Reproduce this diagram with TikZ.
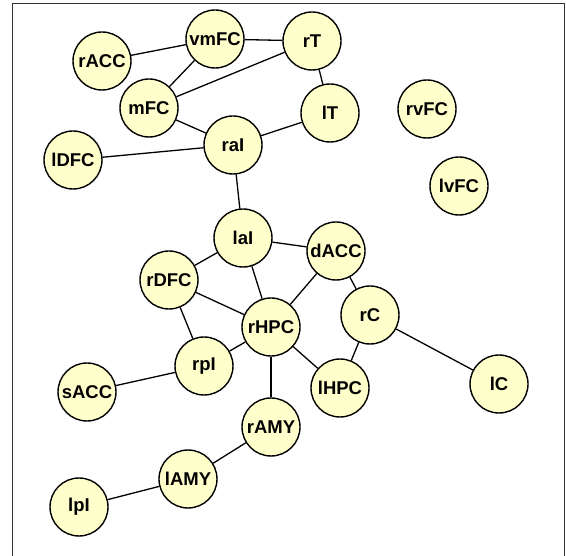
\documentclass[tikz,border=0pt]{standalone}
\usepackage{fontspec}
\setmainfont{Liberation Sans}
\definecolor{nodefill}{RGB}{255,255,204}
\begin{document}
\begin{tikzpicture}[x=1pt,y=-1pt,
  region/.style={circle,draw=black,line width=1.4pt,fill=nodefill,minimum size=58pt,inner sep=0pt,font=\fontsize{18.5}{19}\selectfont\bfseries},
  link/.style={line width=1.3pt,black}]
\useasboundingbox (0,0) rectangle (566,556);
\draw[line width=1pt,black!80] (12.5,600) -- (12.5,3.5) -- (564.5,3.5) -- (564.5,600);
\begin{scope}[every node/.style={region}]
\node (rACC) at (102,61) {rACC};
\node (vmFC) at (215,39) {vmFC};
\node (rT) at (312,41) {rT};
\node (mFC) at (149,108) {mFC};
\node (lT) at (330,113) {lT};
\node (rvFC) at (427,109) {rvFC};
\node (ral) at (233,145) {raI};
\node (lDFC) at (73,160) {lDFC};
\node (lvFC) at (459,186) {lvFC};
\node (lal) at (243,238) {laI};
\node (dACC) at (336,251) {dACC};
\node (rDFC) at (169,280) {rDFC};
\node (rC) at (370,315) {rC};
\node (rHPC) at (271,327) {rHPC};
\node (rpI) at (204,366) {rpI};
\node (lHPC) at (340,388) {lHPC};
\node (lC) at (499,384) {lC};
\node (sACC) at (87,392) {sACC};
\node (rAMY) at (271,427) {rAMY};
\node (lAMY) at (188,479) {lAMY};
\node (lpI) at (79,507) {lpI};
\end{scope}
\draw[link] (rACC) -- (vmFC);
\draw[link] (vmFC) -- (rT);
\draw[link] (vmFC) -- (mFC);
\draw[link] (mFC) -- (rT);
\draw[link] (mFC) -- (ral);
\draw[link] (ral) -- (lT);
\draw[link] (lT) -- (rT);
\draw[link] (lDFC) -- (ral);
\draw[link] (ral) -- (lal);
\draw[link] (lal) -- (dACC);
\draw[link] (lal) -- (rDFC);
\draw[link] (lal) -- (rHPC);
\draw[link] (rDFC) -- (rHPC);
\draw[link] (rDFC) -- (rpI);
\draw[link] (rpI) -- (rHPC);
\draw[link] (sACC) -- (rpI);
\draw[link] (dACC) -- (rHPC);
\draw[link] (dACC) -- (rC);
\draw[link] (rC) -- (lHPC);
\draw[link] (rHPC) -- (lHPC);
\draw[link] (rC) -- (lC);
\draw[link] (rHPC) -- (rAMY);
\draw[link] (rAMY) -- (lAMY);
\draw[link] (lAMY) -- (lpI);
\end{tikzpicture}
\end{document}
